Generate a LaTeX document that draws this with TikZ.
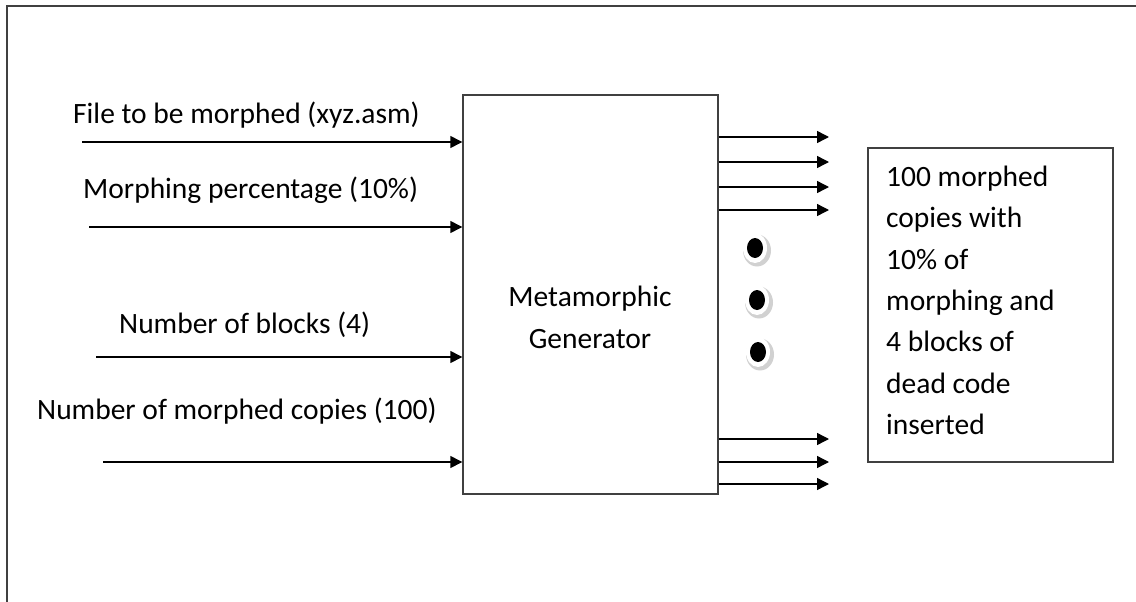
\documentclass[tikz,border=0pt]{standalone}
\usepackage{fontspec}
\setmainfont{Carlito}
\usetikzlibrary{arrows.meta,calc,shapes.geometric}
\definecolor{frameline}{HTML}{404040}
\begin{document}
\begin{tikzpicture}[x=1pt,y=-1pt,
  txt/.style={inner sep=0pt,font=\fontsize{29.5}{41.7}\selectfont},
  lbl/.style={txt,anchor=base west},
  boxnode/.style={draw=frameline,line width=1.4pt,inner sep=0pt},
  arr/.style={line width=1.4pt,-{Triangle[length=12pt,width=12pt]}},
  dotmark/.style={fill=black}]
\useasboundingbox (0,0) rectangle (1136,602);
% open outer frame: top and left edges only
\draw[frameline,line width=2pt] (7,602) -- (7,6) -- (1136,6);

% central block
\node[boxnode,minimum width=255pt,minimum height=399pt] (gen) at (590.5,294.5) {};
\node[txt,align=center,font=\fontsize{29.5}{42}\selectfont] (genlabel) at (590,317) {Metamorphic\\Generator};

% result block
\node[boxnode,minimum width=245pt,minimum height=314pt] (out) at (990.5,305) {};
\node[txt,anchor=north west,align=left,font=\fontsize{29.5}{41.3}\selectfont] (outtext) at (886,166)
  {100 morphed\\copies with\\10\% of\\morphing and\\4 blocks of\\dead code\\inserted};

% inputs
\node[lbl] (t1) at (73,123) {File to be morphed (xyz.asm)};
\node[lbl] (t2) at (83,198) {Morphing percentage (10\%)};
\node[lbl] (t3) at (119,333) {Number of blocks (4)};
\node[lbl] (t4) at (37,419) {Number of morphed copies (100)};
\coordinate (i1) at (82,142);
\coordinate (i2) at (89,227);
\coordinate (i3) at (96,357);
\coordinate (i4) at (103,462);
\foreach \i in {i1,i2,i3,i4}
  \draw[arr] (\i) -- (\i -| gen.west);

% outputs
\coordinate (o1) at (829,137);
\coordinate (o2) at (829,162);
\coordinate (o3) at (829,187);
\coordinate (o4) at (829,210);
\coordinate (o5) at (829,439);
\coordinate (o6) at (829,462);
\coordinate (o7) at (829,484);
\foreach \o in {o1,o2,o3,o4,o5,o6,o7}
  \draw[arr] (gen.east |- \o) -- (\o);

% ellipsis dots with soft shadow
\foreach \n/\px/\py in {d1/755/248,d2/757/300,d3/758/352}{
  \fill[black!18] (\px+2,\py+2.5) ellipse (14pt and 16pt);
  \fill[white] (\px,\py) ellipse (12pt and 15pt);
  \node[dotmark,ellipse,inner sep=0pt,minimum width=16pt,minimum height=20pt] (\n) at (\px,\py) {};
}
\end{tikzpicture}
\end{document}
